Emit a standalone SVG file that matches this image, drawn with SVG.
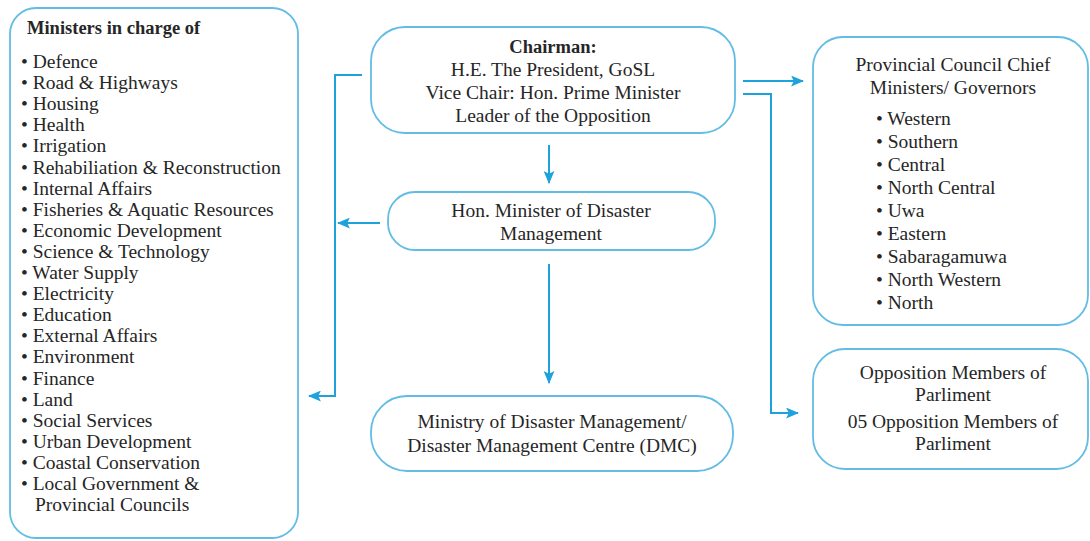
<svg xmlns="http://www.w3.org/2000/svg" width="1090" height="541" viewBox="0 0 1090 541">
  <style>
    .box { fill: #ffffff; stroke: #62bce4; stroke-width: 1.8; }
    .t { font-family: "Liberation Serif", "DejaVu Serif", serif; font-size: 19.5px; fill: #262626; }
    .c { text-anchor: middle; }
    .b { font-weight: bold; font-size: 18.5px; }
    .wire { fill: none; stroke: #1ea2dc; stroke-width: 2; }
  </style>
  <defs>
    <marker id="arrow" viewBox="0 0 12 10" refX="11" refY="5" markerWidth="13" markerHeight="11" markerUnits="userSpaceOnUse" orient="auto">
      <path d="M0,0 L12,5 L0,10 L2.5,5 Z" fill="#1ea2dc"/>
    </marker>
  </defs>
  <rect width="1090" height="541" fill="#ffffff"/>

  <!-- Ministers list -->
  <g id="ministers">
    <rect class="box" x="10" y="8" width="288" height="530" rx="26"/>
    <text class="t b" x="27" y="34">Ministers in charge of</text>
    <g class="t">
      <text x="21" y="68">• Defence</text>
      <text x="21" y="89">• Road &amp; Highways</text>
      <text x="21" y="110">• Housing</text>
      <text x="21" y="131">• Health</text>
      <text x="21" y="152">• Irrigation</text>
      <text x="21" y="174">• Rehabiliation &amp; Reconstruction</text>
      <text x="21" y="195">• Internal Affairs</text>
      <text x="21" y="216">• Fisheries &amp; Aquatic Resources</text>
      <text x="21" y="237">• Economic Development</text>
      <text x="21" y="258">• Science &amp; Technology</text>
      <text x="21" y="279">• Water Supply</text>
      <text x="21" y="300">• Electricity</text>
      <text x="21" y="321">• Education</text>
      <text x="21" y="342">• External Affairs</text>
      <text x="21" y="363">• Environment</text>
      <text x="21" y="385">• Finance</text>
      <text x="21" y="406">• Land</text>
      <text x="21" y="427">• Social Services</text>
      <text x="21" y="448">• Urban Development</text>
      <text x="21" y="469">• Coastal Conservation</text>
      <text x="21" y="490">• Local Government &amp;</text>
      <text x="35" y="511">Provincial Councils</text>
    </g>
  </g>

  <!-- Chairman -->
  <g id="chairman">
    <rect class="box" x="371" y="27" width="364" height="106" rx="34"/>
    <text class="t c b" x="553" y="53">Chairman:</text>
    <text class="t c" x="553" y="76">H.E. The President, GoSL</text>
    <text class="t c" x="553" y="99">Vice Chair: Hon. Prime Minister</text>
    <text class="t c" x="553" y="122">Leader of the Opposition</text>
  </g>

  <!-- Minister of Disaster Management -->
  <g id="minister-dm">
    <rect class="box" x="388" y="192" width="327" height="58" rx="27"/>
    <text class="t c" x="551" y="217">Hon. Minister of Disaster</text>
    <text class="t c" x="551" y="240">Management</text>
  </g>

  <!-- Ministry / DMC -->
  <g id="dmc">
    <rect class="box" x="371" y="396" width="362" height="75" rx="36"/>
    <text class="t c" x="552" y="428">Ministry of Disaster Management/</text>
    <text class="t c" x="552" y="452">Disaster Management Centre (DMC)</text>
  </g>

  <!-- Provincial councils -->
  <g id="provincial">
    <rect class="box" x="813" y="37" width="275" height="288" rx="30"/>
    <text class="t c" x="953" y="71">Provincial Council Chief</text>
    <text class="t c" x="953" y="94">Ministers/ Governors</text>
    <g class="t">
      <text x="876" y="125">• Western</text>
      <text x="876" y="148">• Southern</text>
      <text x="876" y="171">• Central</text>
      <text x="876" y="194">• North Central</text>
      <text x="876" y="217">• Uwa</text>
      <text x="876" y="240">• Eastern</text>
      <text x="876" y="263">• Sabaragamuwa</text>
      <text x="876" y="286">• North Western</text>
      <text x="876" y="309">• North</text>
    </g>
  </g>

  <!-- Opposition members -->
  <g id="opposition">
    <rect class="box" x="813" y="349" width="275" height="120" rx="32"/>
    <text class="t c" x="953" y="379">Opposition Members of</text>
    <text class="t c" x="953" y="401">Parliment</text>
    <text class="t c" x="953" y="428">05 Opposition Members of</text>
    <text class="t c" x="953" y="450">Parliment</text>
  </g>

  <!-- Connectors -->
  <g id="connectors">
    <path class="wire" d="M549,145 V183" marker-end="url(#arrow)"/>
    <path class="wire" d="M380,223 H338" marker-end="url(#arrow)"/>
    <path class="wire" d="M549,264 V383" marker-end="url(#arrow)"/>
    <path class="wire" d="M362,75 H335 V396 H309" marker-end="url(#arrow)"/>
    <path class="wire" d="M743,81 H803" marker-end="url(#arrow)"/>
    <path class="wire" d="M743,94 H771 V413 H798" marker-end="url(#arrow)"/>
  </g>
</svg>
